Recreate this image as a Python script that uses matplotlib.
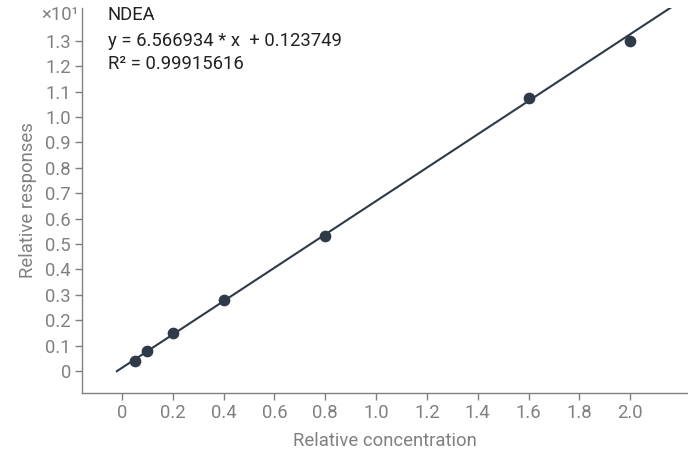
import matplotlib.pyplot as plt
import numpy as np

plt.rcParams['font.family'] = ['Roboto', 'DejaVu Sans']

# データ
conc = [0.05, 0.1, 0.2, 0.4, 0.8, 1.6, 2.0]
resp = [0.40, 0.78, 1.50, 2.80, 5.33, 10.75, 13.0]
slope = 6.566934
intercept = 0.123749
r2 = 0.99915616
xticks = [0, 0.2, 0.4, 0.6, 0.8, 1.0, 1.2, 1.4, 1.6, 1.8, 2.0]
xlabels = ['0', '0.2', '0.4', '0.6', '0.8', '1.0', '1.2', '1.4', '1.6', '1.8', '2.0']
yticks = [0, 0.1, 0.2, 0.3, 0.4, 0.5, 0.6, 0.7, 0.8, 0.9, 1.0, 1.1, 1.2, 1.3]
ylabels = ['0'] + [f"{v:.1f}" for v in yticks[1:]]
scale = 10  # ×10^1

gray = '#808080'
dark = '#2e3a47'
fs = 13.3

fig = plt.figure(figsize=(6.88, 4.57), dpi=100)
ax = fig.add_axes([0.1192, 0.140, 0.881, 0.8425])

x = np.array(conc)
y = np.array(resp) / scale

# 近似直線
xl = np.array([-0.02, 2.2])
ax.plot(xl, (slope * xl + intercept) / scale, color=dark, lw=1.5, zorder=2)
ax.scatter(x, y, s=55, color=dark, zorder=3)

ax.set_xlim(-0.157, 2.228)
ax.set_ylim(-0.0866, 1.429)
ax.set_xticks(xticks)
ax.set_xticklabels(xlabels)
ax.set_yticks(yticks)
ax.set_yticklabels(ylabels)

for s in ['top', 'right']:
    ax.spines[s].set_visible(False)
for s in ['left', 'bottom']:
    ax.spines[s].set_color(gray)
    ax.spines[s].set_linewidth(1.0)
ax.tick_params(colors=gray, labelsize=fs, length=5, width=1.0, pad=3)

ax.set_xlabel('Relative concentration', color=gray, fontsize=fs, labelpad=7)
ax.set_ylabel('Relative responses', color=gray, fontsize=fs, labelpad=6)

# ×10^1
ax.text(-0.17, 1.40, '×10¹', ha='right', va='center',
        color=gray, fontsize=fs, clip_on=False)

# 式
ax.text(-0.055, 1.40, 'NDEA', ha='left', va='center', fontsize=fs, color='#222222')
ax.text(-0.055, 1.298, f'y = {slope:.6f} * x  + {intercept:.6f}', ha='left', va='center',
        fontsize=fs, color='#222222')
ax.text(-0.055, 1.208, f'R² = {r2:.8f}', ha='left', va='center',
        fontsize=fs, color='#222222')

fig.savefig('out.png', dpi=100)
